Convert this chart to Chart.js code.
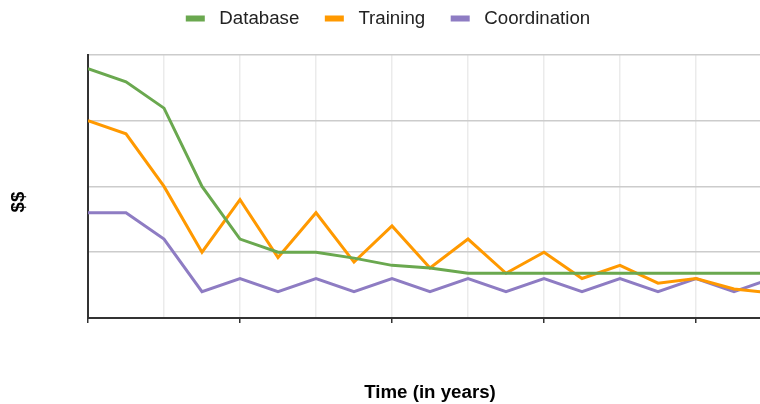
<!DOCTYPE html>
<html>
<head>
<meta charset="utf-8">
<script src="https://cdn.jsdelivr.net/npm/chart.js@4.4.1/dist/chart.umd.min.js"></script>
<style>
  html, body { margin: 0; padding: 0; background: #fff; overflow: hidden; }
  /* the plot runs a little past the right edge of the window, like the original */
  #chart { display: block; }
</style>
</head>
<body>
<canvas id="chart" width="772" height="404"></canvas>
<script>
/* global Chart */

// x positions (periods), one point every half grid step
const periods = [0, 1, 2, 3, 4, 5, 6, 7, 8, 9, 10, 11, 12, 13, 14, 15, 16, 17, 18];

const database = [3.79, 3.59, 3.19, 2.0, 1.2, 1.0, 1.0, 0.91, 0.8, 0.76, 0.68, 0.68, 0.68, 0.68, 0.68, 0.68, 0.68, 0.68, 0.68];
const training = [3.0, 2.8, 2.0, 1.0, 1.8, 0.92, 1.6, 0.85, 1.4, 0.76, 1.2, 0.68, 1.0, 0.6, 0.8, 0.53, 0.6, 0.44, 0.38];
const coordination = [1.6, 1.6, 1.2, 0.4, 0.6, 0.4, 0.6, 0.4, 0.6, 0.4, 0.6, 0.4, 0.6, 0.4, 0.6, 0.4, 0.6, 0.4, 0.6];

const seriesNames = ["Database", "Training", "Coordination"];
const seriesColors = ["#6aa84f", "#ff9900", "#8e7cc3"];

const xTitle = "Time (in years)";
const yTitle = "$$";

Chart.defaults.font.family = "'Liberation Sans', Arial, sans-serif";

const toPoints = (values) => values.map((v, i) => ({ x: periods[i], y: v }));

// push the plot down a bit below the legend
const legendMargin = {
  id: "legendMargin",
  beforeInit(chart) {
    const fit = chart.legend.fit;
    chart.legend.fit = function () {
      fit.bind(chart.legend)();
      this.height += 17;
    };
  },
};

// eslint-disable-next-line no-new
new Chart(document.getElementById("chart"), {
  type: "line",
  plugins: [legendMargin],
  data: {
    datasets: [database, training, coordination].map((values, i) => ({
      label: seriesNames[i],
      data: toPoints(values),
      borderColor: seriesColors[i],
      backgroundColor: seriesColors[i],
      borderWidth: 3,
      pointRadius: 0,
      tension: 0,
    })),
  },
  options: {
    responsive: false,
    animation: false,
    layout: {
      padding: { top: -16.35, left: 4, right: 0, bottom: 0 },
    },
    plugins: {
      tooltip: { enabled: false },
      legend: {
        position: "top",
        labels: {
          boxWidth: 19,
          boxHeight: 6,
          padding: 25.5,
          color: "#222",
          font: { size: 18.7 },
          generateLabels: (chart) =>
            Chart.defaults.plugins.legend.labels
              .generateLabels(chart)
              .map((item) => ({ ...item, text: ` ${item.text}`, lineWidth: 0 })),
        },
      },
    },
    scales: {
      x: {
        type: "linear",
        min: 0,
        max: 18,
        ticks: { display: false, stepSize: 2 },
        grid: {
          color: "#ebebeb",
          lineWidth: 1.5,
          tickLength: 5,
          tickWidth: 1.5,
          tickColor: (ctx) => (ctx.tick && ctx.tick.value % 4 === 0 ? "#333" : "rgba(0,0,0,0)"),
        },
        border: { color: "#333", width: 2 },
        title: {
          display: true,
          text: xTitle,
          color: "#000",
          font: { size: 18.7, weight: "bold" },
          padding: { top: 59.06, bottom: -0.5 },
        },
      },
      y: {
        min: 0,
        max: 4,
        ticks: { display: false, stepSize: 1 },
        grid: { color: "#cccccc", lineWidth: 1.5, drawTicks: false },
        border: { color: "#333", width: 2 },
        title: {
          display: true,
          text: `${yTitle}      `,
          color: "#000",
          font: { size: 18.7, weight: "bold" },
          padding: { top: 3.98, bottom: 57.58 },
        },
      },
    },
  },
});
</script>
</body>
</html>
